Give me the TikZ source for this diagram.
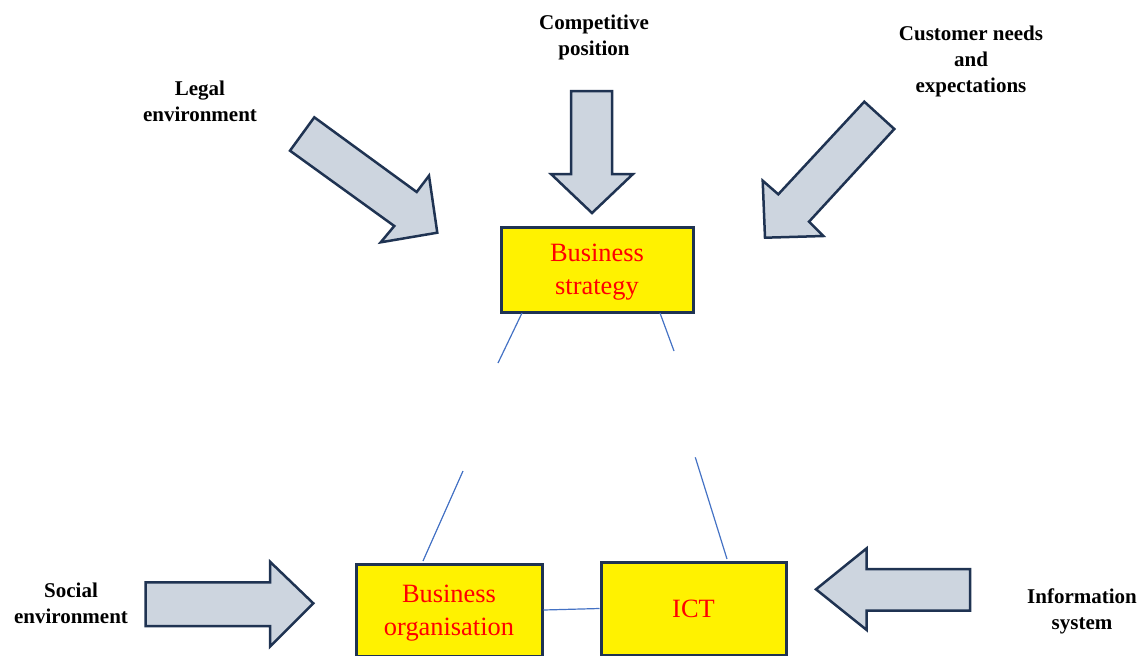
\documentclass[tikz,border=0pt]{standalone}
\usepackage{fontspec}
\setmainfont{Liberation Serif}
\definecolor{navy}{HTML}{1F3352}
\definecolor{arrowgrey}{HTML}{CDD5DF}
\definecolor{linkblue}{HTML}{4472C4}
\tikzset{
  areabox/.style={draw=navy, line width=1.5pt, fill=yellow, text=red, align=center,
    font=\fontsize{13.2}{16.5}\selectfont, inner sep=0pt},
  forcelabel/.style={align=center, inner sep=0pt, font=\fontsize{10.5}{13}\selectfont\bfseries},
  blockarrow/.style={draw=navy, line width=1.25pt, fill=arrowgrey, line join=miter},
  link/.style={draw=linkblue, line width=0.6pt}
}
\begin{document}
\begin{tikzpicture}[x=0.5pt, y=-0.5pt]
\useasboundingbox (0,0) rectangle (1142,655);
\clip (0,0) rectangle (1142,655);
% the three boxes
\node[areabox, text depth=-1.5pt, minimum width=96pt, minimum height=42.5pt] (strat) at (597,269.5) {Business\\strategy};
\node[areabox, text depth=-1.5pt, minimum width=93pt, minimum height=46pt] (org) at (449,610) {Business\\organisation};
\node[areabox, minimum width=92.5pt, minimum height=46.5pt] (ict) at (693.5,608.5) {ICT};
% outside forces
\node[forcelabel] (legal) at (200,101) {Legal\\environment};
\node[forcelabel] (competitive) at (594,37) {Competitive\\position};
\node[forcelabel] (customer) at (971,61) {Customer needs\\and\\expectations};
\node[forcelabel] (social) at (71,603) {Social\\environment};
\node[forcelabel] (infosys) at (1082,611) {Information\\system};
% block arrows
\draw[blockarrow] (314.3,117.3) -- (416.7,192) -- (429,175.7) -- (437.3,232.7) -- (380.7,242.3) -- (394.3,226) -- (290,150.7) -- cycle;
\draw[blockarrow] (571,91) -- (612,91) -- (612,174) -- (633,174) -- (592,213) -- (551,174) -- (571,174) -- cycle;
\draw[blockarrow] (864.3,101.7) -- (894.3,129) -- (809,221.7) -- (823.3,236) -- (765,237.7) -- (762.7,180.7) -- (778.3,194.3) -- cycle;
\draw[blockarrow] (145.7,582.3) -- (270,582.3) -- (270,561.7) -- (313.3,603.3) -- (270,646.7) -- (270,626) -- (145.7,626) -- cycle;
\draw[blockarrow] (816,589.3) -- (866.7,548.3) -- (866.7,569) -- (970,569) -- (970,610.7) -- (866.7,610.7) -- (866.7,630) -- cycle;
% broken links between the boxes
\coordinate (sl1) at (522,313);
\coordinate (sl2) at (498,363);
\coordinate (ol1) at (463,471);
\coordinate (ol2) at (423,561);
\coordinate (sr1) at (660,313);
\coordinate (sr2) at (674,351);
\coordinate (ir1) at (695.3,457.3);
\coordinate (ir2) at (727,559);
\draw[link] (sl1) -- (sl2);
\draw[link] (ol1) -- (ol2);
\draw[link] (sr1) -- (sr2);
\draw[link] (ir1) -- (ir2);
\draw[link] (org.east) -- (ict.west);
\end{tikzpicture}
\end{document}
